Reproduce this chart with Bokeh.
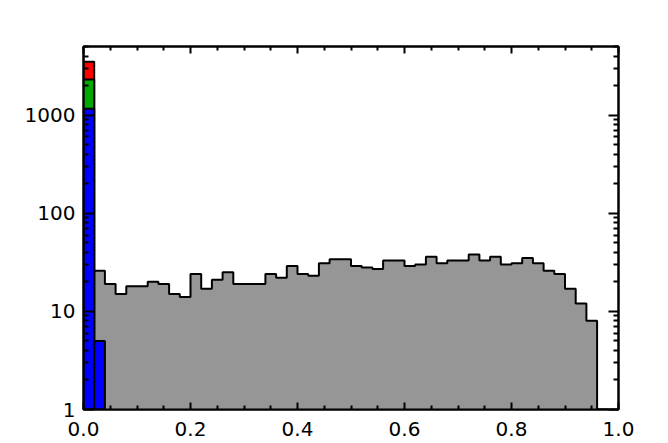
import numpy as np
from bokeh.plotting import figure
from bokeh.models import (Range1d, LinearAxis, LogAxis, FixedTicker,
                          PrintfTickFormatter, CustomJSTickFormatter)
from bokeh.embed import file_html
from bokeh.resources import INLINE

# ---- data -------------------------------------------------------------
bin_width = 0.02
gray_first_left = 0.02
gray_counts = [26, 19, 15, 18, 18, 20, 19, 15, 14, 24,
               17, 21, 25, 19, 19, 19, 24, 22, 29, 24,
               23, 31, 34, 34, 29, 28, 27, 33, 33, 29,
               30, 36, 31, 33, 33, 38, 33, 36, 30, 31,
               35, 31, 26, 24, 17, 12, 8, 1]
color_bin_left = [0.00, 0.02]
red_counts = [3500, 0]
green_counts = [2310, 0]
blue_counts = [1160, 5]

x_ticks = [0.0, 0.2, 0.4, 0.6, 0.8, 1.0]
x_minor_ticks = [0.05, 0.1, 0.15, 0.25, 0.3, 0.35, 0.45, 0.5, 0.55,
                 0.65, 0.7, 0.75, 0.85, 0.9, 0.95]
y_ticks = [1, 10, 100, 1000]

# ---- figure -----------------------------------------------------------
p = figure(frame_width=535, frame_height=363,
           x_range=Range1d(0.0, 1.0), y_range=Range1d(1, 5000),
           y_axis_type="log", output_backend="svg", toolbar_location=None,
           min_border_left=83, min_border_right=50,
           min_border_top=46, min_border_bottom=34)
p.xgrid.visible = False
p.ygrid.visible = False
p.outline_line_color = "black"
p.outline_line_width = 2
p.background_fill_color = "white"
p.border_fill_color = "white"

# gray histogram
gl = gray_first_left + bin_width * np.arange(len(gray_counts))
gc = np.array(gray_counts, dtype=float)
step_x = np.append(gl, gl[-1] + bin_width)
step_y = np.append(gc, gc[-1])
p.varea_step(x=step_x, y1=np.ones_like(step_y), y2=step_y, step_mode="after",
             fill_color="#969696")
p.step(x=step_x, y=step_y, mode="after", line_color="black", line_width=2)

# coloured bars
cl = np.array(color_bin_left)
for counts, col in ((red_counts, "#ff0000"), (green_counts, "#00a800"),
                    (blue_counts, "#0000ff")):
    c = np.array(counts, dtype=float)
    m = c > 0
    p.quad(left=cl[m], right=cl[m] + bin_width, bottom=1, top=c[m],
           fill_color=col, line_color="black", line_width=2)

# ---- axes -------------------------------------------------------------
font = "DejaVu Sans"
fs = "20px"
empty = CustomJSTickFormatter(code="return ''")
y_minor = [m * t for t in y_ticks for m in range(2, 10)]

bottom = p.below[0]
left = p.left[0]
bottom.ticker = FixedTicker(ticks=x_ticks, minor_ticks=x_minor_ticks)
bottom.formatter = PrintfTickFormatter(format="%.1f")
left.ticker = FixedTicker(ticks=y_ticks, minor_ticks=y_minor)
left.formatter = PrintfTickFormatter(format="%d")

top_ax = LinearAxis(ticker=FixedTicker(ticks=x_ticks, minor_ticks=x_minor_ticks),
                    formatter=empty)
right_ax = LogAxis(ticker=FixedTicker(ticks=y_ticks, minor_ticks=y_minor),
                   formatter=empty)
p.add_layout(top_ax, "above")
p.add_layout(right_ax, "right")

for ax in (bottom, left, top_ax, right_ax):
    ax.axis_line_color = "black"
    ax.axis_line_width = 2
    ax.major_tick_line_color = "black"
    ax.minor_tick_line_color = "black"
    ax.major_tick_line_width = 2
    ax.minor_tick_line_width = 2
    ax.major_tick_out = 0
    ax.minor_tick_out = 0
    ax.major_label_text_color = "black"
    ax.major_label_text_font = font
    ax.major_label_text_font_size = fs

for ax in (bottom, top_ax):
    ax.major_tick_in = 7
    ax.minor_tick_in = 4
for ax in (left, right_ax):
    ax.major_tick_in = 10
    ax.minor_tick_in = 5

top_ax.major_label_standoff = 0
right_ax.major_label_standoff = 0
bottom.major_label_standoff = 12
left.major_label_standoff = 8

open("out.html", "w").write(file_html(p, INLINE))
